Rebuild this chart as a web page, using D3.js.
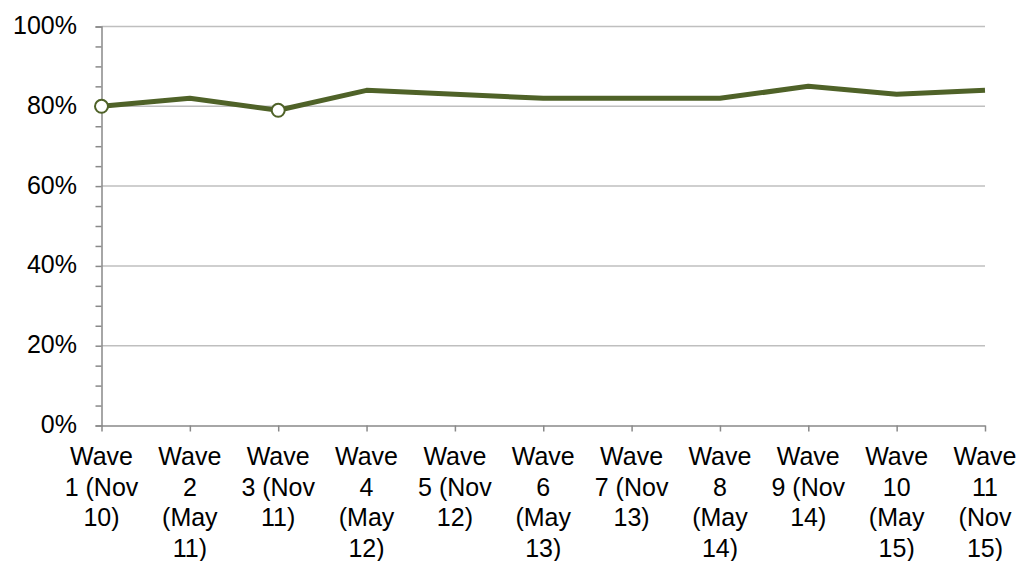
<!DOCTYPE html>
<html><head><meta charset="utf-8">
<script src="https://cdn.jsdelivr.net/npm/d3@7"></script>
<style>body{margin:0;background:#fff;}svg{display:block;font-family:"Liberation Sans",Arial,sans-serif;}</style>
</head><body><svg id="c" width="1020" height="561"></svg>
<script>
const categories = ["Wave 1 (Nov 10)","Wave 2 (May 11)","Wave 3 (Nov 11)","Wave 4 (May 12)","Wave 5 (Nov 12)","Wave 6 (May 13)","Wave 7 (Nov 13)","Wave 8 (May 14)","Wave 9 (Nov 14)","Wave 10 (May 15)","Wave 11 (Nov 15)"];
const labelLines = [["Wave","1 (Nov","10)"],["Wave","2","(May","11)"],["Wave","3 (Nov","11)"],["Wave","4","(May","12)"],["Wave","5 (Nov","12)"],["Wave","6","(May","13)"],["Wave","7 (Nov","13)"],["Wave","8","(May","14)"],["Wave","9 (Nov","14)"],["Wave","10","(May","15)"],["Wave","11","(Nov","15)"]];
const values = [0.80,0.82,0.79,0.84,0.83,0.82,0.82,0.82,0.85,0.83,0.84];
const markerIdx = [0,2];
const yTicks = [0,0.2,0.4,0.6,0.8,1.0];
const yMinor = d3.range(0,1.0001,0.05);

const svg = d3.select("#c");
const x = d3.scalePoint().domain(categories).range([101.5,985]);
const y = d3.scaleLinear().domain([0,1]).range([425.5,26.5]);

svg.append("g").selectAll("line").data(yTicks.filter(d=>d>0)).join("line")
  .attr("x1",101.5).attr("x2",985).attr("y1",d=>y(d)).attr("y2",d=>y(d))
  .attr("stroke","#bfbfbf").attr("stroke-width",1.5);

const yAxis = svg.append("g").attr("transform","translate(101.5,0)")
  .call(d3.axisLeft(y).tickValues(yMinor).tickSize(6).tickFormat(""));
yAxis.select(".domain").attr("stroke","#898989").attr("stroke-width",1.5);
yAxis.selectAll(".tick line").attr("stroke","#898989").attr("stroke-width",1.5);
svg.append("g").selectAll("text").data(yTicks).join("text")
  .attr("x",77).attr("y",d=>y(d)+7.5).attr("text-anchor","end")
  .attr("font-size",25).attr("fill","#000").text(d=>d3.format(".0%")(d));

const xAxis = svg.append("g").attr("transform","translate(0,425.5)")
  .call(d3.axisBottom(x).tickSize(6).tickSizeOuter(0).tickFormat(""));
xAxis.select(".domain").attr("stroke","#898989").attr("stroke-width",1.5);
xAxis.selectAll(".tick line").attr("stroke","#898989").attr("stroke-width",1.5);
const lbl = svg.append("g").selectAll("text").data(categories).join("text")
  .attr("x",d=>x(d)).attr("y",465).attr("text-anchor","middle")
  .attr("font-size",25).attr("fill","#000");
lbl.each(function(d,i){
  d3.select(this).selectAll("tspan").data(labelLines[i]).join("tspan")
    .attr("x",x(d)).attr("dy",(t,j)=>j===0?0:30.7).text(t=>t);
});

const line = d3.line().x((d,i)=>x(categories[i])).y(d=>y(d));
svg.append("path").datum(values).attr("d",line).attr("fill","none")
  .attr("stroke","#4f6228").attr("stroke-width",5).attr("stroke-linejoin","round");
svg.append("g").selectAll("circle").data(markerIdx).join("circle")
  .attr("cx",i=>x(categories[i])).attr("cy",i=>y(values[i])).attr("r",6.5)
  .attr("fill","#fff").attr("stroke","#4f6228").attr("stroke-width",2);
</script></body></html>
